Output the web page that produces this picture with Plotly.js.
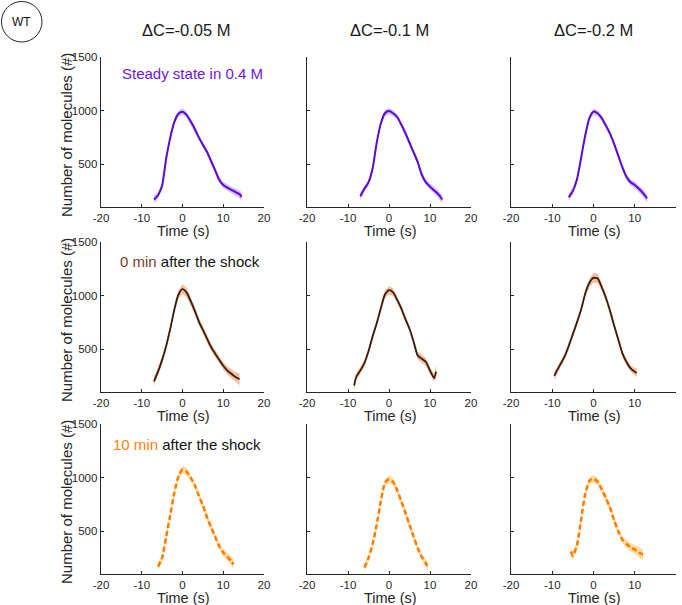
<!DOCTYPE html>
<html>
<head>
<meta charset="utf-8">
<script src="https://cdn.plot.ly/plotly-3.0.1.min.js"></script>
<style>html,body{margin:0;padding:0;background:#fff;}#chart{width:682px;height:605px;}</style>
</head>
<body>
<div id="chart"></div>
<script>
// ---- data ----
const colTitles = ["ΔC=-0.05 M", "ΔC=-0.1 M", "ΔC=-0.2 M"];
const xTicks = [-20, -10, 0, 10, 20];
const yTicks = [500, 1000, 1500];

// Row 1: steady state in 0.4 M
const ss_x1 = [-7,-6,-5,-4,-3,-2,-1,0,1,2,3,4,5,6,7,8,9,10,11,12,13,14,14.5];
const ss_y1 = [170,210,300,555,750,895,970,990,960,900,830,750,680,615,530,445,355,305,280,260,240,220,195];
const ss_e1 = [35,30,28,25,25,25,28,30,28,25,25,25,25,25,25,25,28,30,30,30,32,35,40];
const ss_x2 = [-7,-6,-5,-4,-3,-2,-1,0,1,2,3,4,5,6,7,8,9,10,11,12,13];
const ss_y2 = [200,270,330,460,700,880,975,995,975,940,870,790,700,610,520,400,330,290,255,220,170];
const ss_e2 = [35,30,28,25,25,25,28,30,28,25,25,25,25,25,25,28,30,30,32,35,40];
const ss_x3 = [-6,-5,-4,-3,-2,-1,0,1,2,3,4,5,6,7,8,9,10,11,12,13];
const ss_y3 = [190,250,360,560,770,930,990,975,930,860,785,690,580,470,380,330,305,270,230,180];
const ss_e3 = [35,30,28,25,25,28,30,28,25,25,25,25,25,25,28,30,32,32,35,40];

// Row 2: 0 min after the shock
const m0_x1 = [-7,-6,-5,-4,-3,-2,-1,0,1,2,3,4,5,6,7,8,9,10,11,12,13,14];
const m0_y1 = [200,290,400,530,690,870,1010,1060,1030,950,860,760,680,600,520,460,400,345,300,270,240,220];
const m0_e1 = [45,40,35,35,35,35,40,45,45,40,35,35,35,35,35,35,35,35,40,40,45,55];
const m0_x2 = [-8.5,-8,-7,-6,-5,-4,-3,-2,-1,0,1,2,3,4,5,6,7,8,9,10,11,11.5];
const m0_y2 = [160,240,300,370,480,620,740,880,1010,1050,1030,960,880,780,690,570,440,410,380,300,230,290];
const m0_e2 = [40,35,35,30,30,30,30,30,35,40,35,30,30,30,30,30,35,40,35,35,40,60];
const m0_x3 = [-9.5,-9,-8,-7,-6,-5,-4,-3,-2,-1,0,1,2,3,4,5,6,7,8,9,10,10.5];
const m0_y3 = [250,290,360,430,530,640,750,870,1020,1120,1165,1160,1080,980,860,720,590,460,380,320,290,280];
const m0_e3 = [40,35,30,30,30,30,30,30,35,40,45,45,40,35,30,30,30,30,30,30,35,40];

// Row 3: 10 min after the shock
const m10_x1 = [-6,-5,-4,-3,-2,-1,0,1,2,3,4,5,6,7,8,9,10,11,12,12.5];
const m10_y1 = [170,250,450,650,860,1010,1075,1055,1000,930,830,740,630,540,450,360,300,260,220,190];
const m10_e1 = [40,35,30,30,30,30,35,35,30,30,30,30,30,30,30,30,35,40,40,45];
const m10_x2 = [-6,-5,-4,-3,-2,-1,0,1,2,3,4,5,6,7,8,9,9.5];
const m10_y2 = [160,250,380,560,780,950,985,960,880,780,670,560,450,340,260,200,160];
const m10_e2 = [35,30,30,30,30,30,35,35,30,30,30,30,30,30,30,35,35];
const m10_x3 = [-5.5,-5,-4,-3,-2,-1,0,1,2,3,4,5,6,7,8,9,10,11,12];
const m10_y3 = [310,270,370,610,850,970,990,960,890,810,720,600,500,420,380,350,330,300,280];
const m10_e3 = [50,40,35,30,30,30,35,35,30,30,30,30,30,30,35,40,40,45,50];

// ---- styles ----
const rowStyles = [
  {line: "#5a0ad2", band: "rgba(160,115,240,0.45)", dash: "solid", width: 2},
  {line: "#3b1d0e", band: "rgba(240,175,135,0.8)", dash: "solid", width: 1.8},
  {line: "#ff7a00", band: "rgba(255,210,130,0.8)", dash: "5px,3px", width: 2.5}
];
const panels = [
  [[ss_x1, ss_y1, ss_e1], [ss_x2, ss_y2, ss_e2], [ss_x3, ss_y3, ss_e3]],
  [[m0_x1, m0_y1, m0_e1], [m0_x2, m0_y2, m0_e2], [m0_x3, m0_y3, m0_e3]],
  [[m10_x1, m10_y1, m10_e1], [m10_x2, m10_y2, m10_e2], [m10_x3, m10_y3, m10_e3]]
];

const W = 682, H = 605;
const colPx = [[101, 264], [307, 471], [511, 676]];
const rowPx = [[57, 207], [242, 392], [424, 574]];
const px2x = p => p / W;
const px2y = p => 1 - p / H;

const traces = [];
const layout = {
  width: W, height: H,
  margin: {l: 0, r: 0, t: 0, b: 0},
  paper_bgcolor: "#fff", plot_bgcolor: "#fff",
  showlegend: false,
  font: {family: "Liberation Sans, Arial, sans-serif", color: "#262626"},
  annotations: [], shapes: []
};

for (let r = 0; r < 3; r++) {
  for (let c = 0; c < 3; c++) {
    const k = r * 3 + c + 1;
    const xa = "x" + (k === 1 ? "" : k), ya = "y" + (k === 1 ? "" : k);
    const [xs, ys, es] = panels[r][c];
    const st = rowStyles[r];
    const upper = ys.map((v, i) => v + es[i]);
    const lower = ys.map((v, i) => v - es[i]);
    traces.push({
      x: xs.concat(xs.slice().reverse()),
      y: upper.concat(lower.slice().reverse()),
      fill: "toself", fillcolor: st.band, line: {width: 0, color: st.band},
      mode: "lines", hoverinfo: "skip", xaxis: xa, yaxis: ya
    });
    traces.push({
      x: xs, y: ys, mode: "lines",
      line: {color: st.line, width: st.width, dash: st.dash, shape: "spline", smoothing: 0.6},
      xaxis: xa, yaxis: ya
    });
    const axCommon = {
      showline: true, linecolor: "#262626", linewidth: 1.3,
      ticks: "inside", ticklen: 3, tickwidth: 1, tickcolor: "#262626",
      showgrid: false, zeroline: false, mirror: false,
      tickfont: {size: 11.5, color: "#262626", family: "Liberation Sans, Arial, sans-serif"}
    };
    layout["xaxis" + (k === 1 ? "" : k)] = Object.assign({}, axCommon, {
      domain: [px2x(colPx[c][0]), px2x(colPx[c][1])],
      range: [-20, 20], tickvals: xTicks, ticktext: xTicks.map(String),
      anchor: ya
    });
    layout["yaxis" + (k === 1 ? "" : k)] = Object.assign({}, axCommon, {
      domain: [px2y(rowPx[r][1]), px2y(rowPx[r][0])],
      range: [100, 1500], tickvals: yTicks, ticktext: yTicks.map(String),
      showticklabels: c === 0, anchor: xa
    });
    // x title
    layout.annotations.push({
      text: "Time (s)", xref: "paper", yref: "paper",
      x: px2x((colPx[c][0] + colPx[c][1]) / 2 + 1), y: px2y(rowPx[r][1] + 24),
      xanchor: "center", yanchor: "middle", showarrow: false,
      font: {size: 14.5, color: "#262626"}
    });
  }
  // y title
  layout.annotations.push({
    text: "Number of molecules (#)", xref: "paper", yref: "paper",
    x: px2x(66), y: px2y((rowPx[r][0] + rowPx[r][1]) / 2 + 3),
    xanchor: "center", yanchor: "middle", textangle: -90, showarrow: false,
    font: {size: 15, color: "#262626"}
  });
}

// column titles
const colTitleX = [187, 389, 593];
colTitles.forEach((t, i) => layout.annotations.push({
  text: t, xref: "paper", yref: "paper", x: px2x(colTitleX[i]), y: px2y(30),
  xanchor: "center", yanchor: "middle", showarrow: false,
  font: {size: 16.5, color: "#1a1a1a"}
}));

// row labels
layout.annotations.push({
  text: "Steady state in 0.4 M", xref: "paper", yref: "paper", x: px2x(120), y: px2y(74),
  xanchor: "left", yanchor: "middle", showarrow: false, font: {size: 15, color: "#6a14e6"}
});
layout.annotations.push({
  text: "<span style='color:#7a3e1e'>0 min</span> after the shock", xref: "paper", yref: "paper",
  x: px2x(118), y: px2y(261), xanchor: "left", yanchor: "middle", showarrow: false,
  font: {size: 15, color: "#111"}
});
layout.annotations.push({
  text: "<span style='color:#ff7f0e'>10 min</span> after the shock", xref: "paper", yref: "paper",
  x: px2x(111), y: px2y(444), xanchor: "left", yanchor: "middle", showarrow: false,
  font: {size: 15, color: "#111"}
});

// WT circle
layout.shapes.push({
  type: "circle", xref: "paper", yref: "paper",
  x0: px2x(1.5), x1: px2x(42), y0: px2y(42), y1: px2y(1.5),
  line: {color: "#222", width: 1}
});
layout.annotations.push({
  text: "WT", xref: "paper", yref: "paper", x: px2x(21.5), y: px2y(21.5),
  xanchor: "center", yanchor: "middle", showarrow: false, font: {size: 12, color: "#111"}
});

Plotly.newPlot("chart", traces, layout, {staticPlot: true});
</script>
</body>
</html>
